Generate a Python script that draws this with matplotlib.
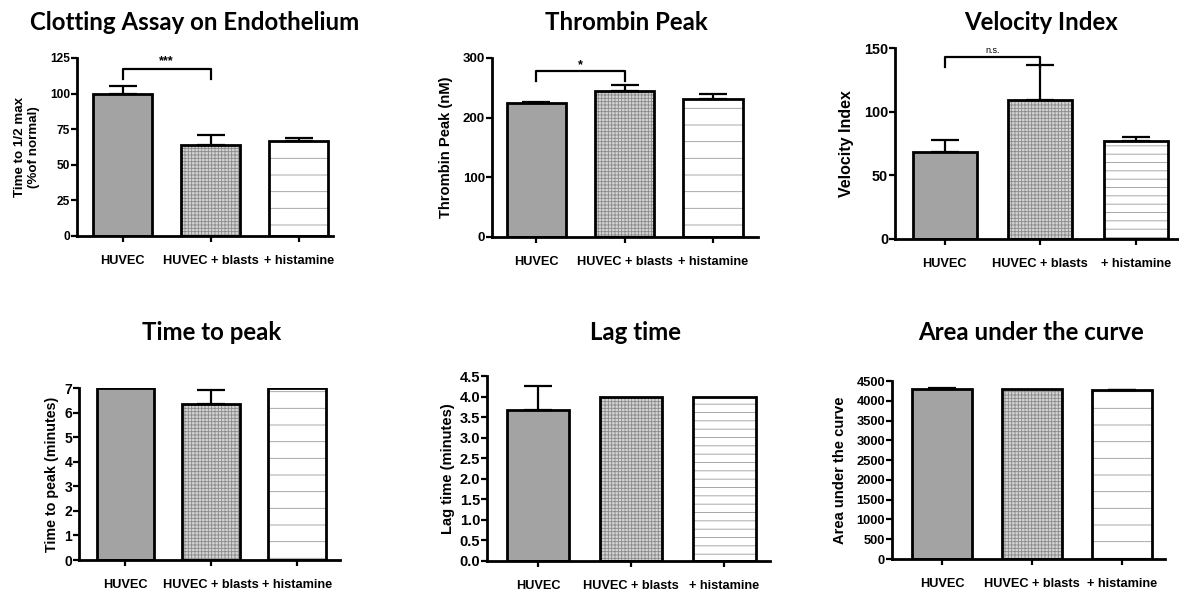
import numpy as np
import matplotlib.pyplot as plt

plt.rcParams['font.family'] = ['Liberation Sans', 'DejaVu Sans']
plt.rcParams['font.weight'] = 'bold'
plt.rcParams['hatch.linewidth'] = 0.6

#%% data
groups = ['HUVEC', 'HUVEC + blasts', '+ histamine']

clot_mean = [100, 64, 67]
clot_err = [5, 7, 1.5]
peak_mean = [224, 245, 231]
peak_err = [3, 10, 9]
vel_mean = [68, 109, 77]
vel_err = [10, 28, 3]
ttp_mean = [7.0, 6.35, 7.0]
ttp_err = [0, 0.55, 0]
lag_mean = [3.67, 4.0, 4.0]
lag_err = [0.58, 0, 0]
auc_mean = [4310, 4300, 4270]
auc_err = [20, 0, 10]

titles = ['Clotting Assay on Endothelium', 'Thrombin Peak', 'Velocity Index',
          'Time to peak', 'Lag time', 'Area under the curve']
ylabels = ['Time to 1/2 max\n(%of normal)', 'Thrombin Peak (nM)', 'Velocity Index',
           'Time to peak (minutes)', 'Lag time (minutes)', 'Area under the curve']
yticks = [np.arange(0, 126, 25), np.arange(0, 301, 100), np.arange(0, 151, 50),
          np.arange(0, 8, 1), np.arange(0, 4.6, 0.5), np.arange(0, 4501, 500)]

# significance brackets: (line height, leg bottom, label, label height)
brackets = [(117, 110, '***', 123), (278, 261, '*', 288), (143, 135, 'n.s.', 148), None, None, None]

means = [clot_mean, peak_mean, vel_mean, ttp_mean, lag_mean, auc_mean]
errs = [clot_err, peak_err, vel_err, ttp_err, lag_err, auc_err]

#%% layout (pixels of 1179x595)
W, H = 1179, 595
# left, right, top, bottom of the axes box
boxes = [(77, 333, 58, 236), (492, 758, 58, 237), (895, 1178, 48, 239),
         (79, 340, 388, 560), (487, 770, 376, 561), (892, 1165, 381, 559)]
xlims = [(-0.52, 2.39), (-0.50, 2.51), (-0.52, 2.44),
         (-0.54, 2.50), (-0.55, 2.49), (-0.56, 2.48)]
title_pos = [(195, 22), (626, 22), (1041, 22), (212, 333), (635, 333), (1031, 333)]
labelpads = [7, 7, 7, 4, 3, 7]
ylab_size = [9.6, 10.6, 11.5, 10.3, 10.6, 10.6]
ytick_size = [8.6, 9.5, 10.4, 10, 10.5, 9.3]
hist_hatch = ['-', '-', '--', '-', '--', '-']

fig = plt.figure(figsize=(W/100, H/100), dpi=100)

x = np.arange(3)
bw = 0.67
for k in range(6):
    l, r, t, b = boxes[k]
    ax = fig.add_axes([l/W, 1-b/H, (r-l)/W, (b-t)/H])
    m = means[k]
    e = errs[k]
    # fills
    ax.bar(x[0], m[0], bw, color='#a3a3a3', linewidth=0, zorder=2)
    ax.bar(x[1], m[1], bw, color='#d4d4d4', edgecolor='#8a8a8a',
           hatch='+++++', linewidth=0, zorder=2)
    ax.bar(x[2], m[2], bw, color='white', edgecolor='#9a9a9a',
           hatch=hist_hatch[k], linewidth=0, zorder=2)
    # outline + error bars (upper only)
    ax.bar(x, m, bw, fill=False, edgecolor='black', linewidth=2, zorder=3)
    for i in range(3):
        if e[i] > 0:
            ax.errorbar(x[i], m[i], yerr=[[0], [e[i]]], fmt='none', ecolor='black',
                        elinewidth=1.6, capsize=10, capthick=1.6, zorder=4)

    br = brackets[k]
    if br is not None:
        yl, yb, txt, yt = br
        ax.plot([0, 0, 1, 1], [yb, yl, yl, yb], color='black', lw=1.6, zorder=5, clip_on=False)
        if txt == 'n.s.':
            ax.text(0.5, yt, txt, ha='center', va='center', fontsize=6.5, fontweight='normal')
        else:
            ax.text(0.5, yt, txt, ha='center', va='center', fontsize=9)

    ax.set_xlim(xlims[k])
    ax.set_ylim(yticks[k][0], yticks[k][-1])
    ax.set_yticks(yticks[k])
    if k == 4:
        ax.set_yticklabels(['%.1f' % v for v in yticks[k]])
    ax.set_xticks(x)
    ax.set_xticklabels(groups)
    ax.spines['top'].set_visible(False)
    ax.spines['right'].set_visible(False)
    ax.spines['left'].set_linewidth(2)
    ax.spines['bottom'].set_linewidth(2)
    ax.tick_params(axis='y', direction='out', length=4, width=1.6, labelsize=ytick_size[k], pad=1)
    ax.tick_params(axis='x', direction='out', length=4, width=1.6, labelsize=9.2, pad=10)
    ax.set_ylabel(ylabels[k], fontsize=ylab_size[k], fontweight='bold', labelpad=labelpads[k])

    tx, ty = title_pos[k]
    fig.text(tx/W, 1-ty/H, titles[k], ha='center', va='center',
             fontsize=17.3, fontweight='bold', family=['Lato', 'DejaVu Sans'])

fig.savefig('out.png', dpi=100)
